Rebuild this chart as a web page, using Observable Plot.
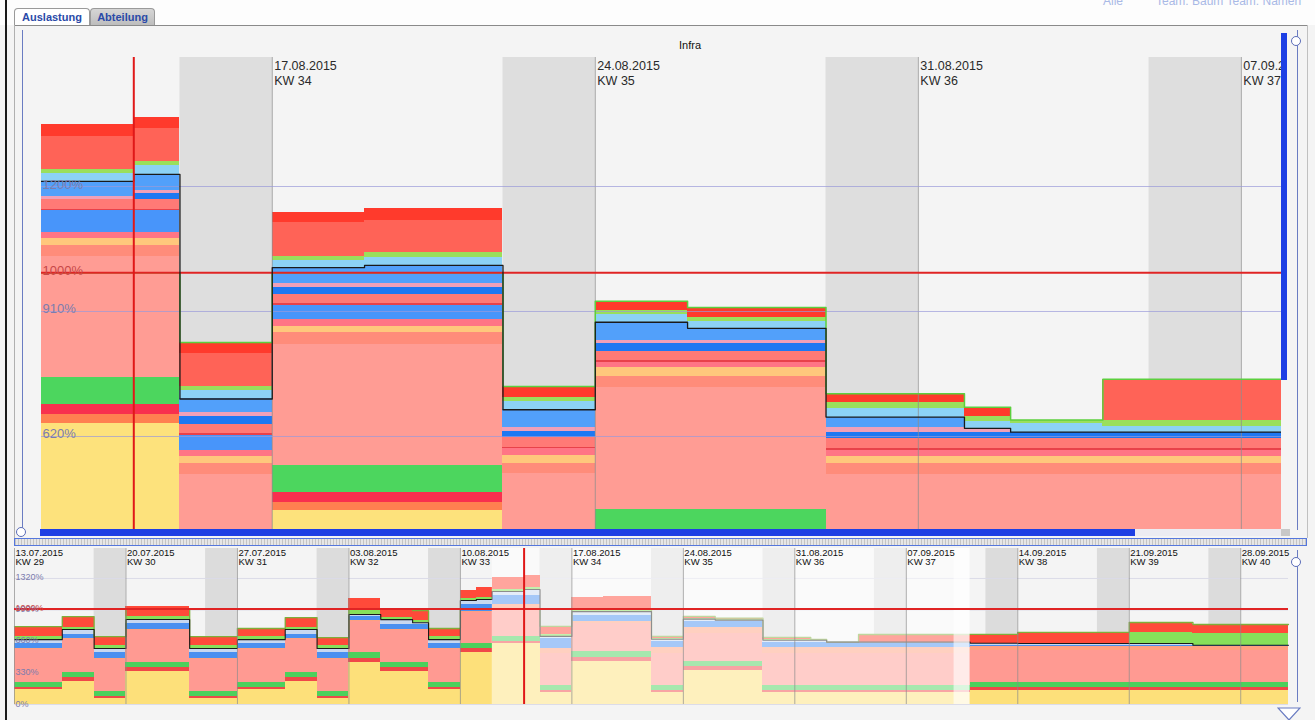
<!DOCTYPE html>
<html><head><meta charset="utf-8">
<script src="https://cdn.jsdelivr.net/npm/d3@7"></script>
<script src="https://cdn.jsdelivr.net/npm/@observablehq/plot@0.6"></script>
<style>
html,body{margin:0;padding:0;overflow:hidden;background:#f4f4f4;}
#page{position:relative;width:1315px;height:720px;overflow:hidden;background:#f4f4f4;font-family:"Liberation Sans",Arial,sans-serif;}
#page svg.chart{position:absolute;left:0;}
.abs{position:absolute;}
.topstrip{left:0;top:0;width:1315px;height:25px;background:#fdfdfd;}
.tab{top:8px;height:16px;border:1px solid #9a9a9a;border-bottom:none;border-radius:4px 4px 0 0;font-weight:bold;font-size:11px;color:#2a4aa8;line-height:16px;text-align:center;}
.faint{top:-6px;font-size:12px;color:#a9b9e6;white-space:nowrap;line-height:14px;}
.vline{width:1px;background:#6a7cc2;}
.knob{width:8px;height:8px;border:1.5px solid #5a6cb8;border-radius:50%;background:#fff;}
.blue{background:#1d3fe4;}
</style></head>
<body><div id="page">
<div class="abs topstrip"></div>
<div class="abs" style="left:14px;top:25px;width:1293px;height:1px;background:#8a8a8a"></div>
<div class="abs" style="left:14px;top:25px;width:1px;height:513px;background:#b0b0b0"></div>
<div class="abs" style="left:1307px;top:25px;width:1px;height:513px;background:#c0c0c0"></div>
<div class="abs tab" style="left:14px;width:74px;background:#fff;">Auslastung</div>
<div class="abs tab" style="left:90px;width:63px;background:linear-gradient(#d6d6d6,#bdbdbd);">Abteilung</div>
<div class="abs faint" style="left:1103px">Alle</div>
<div class="abs faint" style="left:1156px">Team: Baum Team: Namen</div>
<div class="abs" style="left:690px;top:39px;transform:translateX(-50%);font-size:11px;color:#111;">Infra</div>
</div>
<script>
// ================= DATA =================
const capacity = 1000;
const today = "2015-08-14";

// ---- main (detail) chart: segments ----
const mainStart = ["2015-08-12","2015-08-14","2015-08-15","2015-08-17","2015-08-19","2015-08-22","2015-08-24","2015-08-26","2015-08-29","2015-09-01","2015-09-02","2015-09-04"];
const mainEnd   = ["2015-08-14","2015-08-15","2015-08-17","2015-08-19","2015-08-22","2015-08-24","2015-08-26","2015-08-29","2015-09-01","2015-09-02","2015-09-04","2015-09-08"];
// layer values in % (bottom to top)
const mYellow      = [650, 650, 130, 448, 448, 130, 360, 360, 140, 140, 140, 140];
const mOrange      = [ 21,  21,  10,  19,  19,  10,  15,  15,  10,  10,  10,  10];
const mCrimson     = [ 23,  23,  10,  23,  23,  10,  20,  20,  10,  10,  10,  10];
const mGreen       = [ 63,  63,  50,  63,  63,  50,  56,  56,  50,  50,  50,  50];
const mSalmon      = [281, 281, 332, 281, 281, 334, 283, 283, 322, 322, 322, 322];
const mSalmon2     = [ 26,  26,  26,  28,  28,  23,  26,  26,  26,  26,  26,  26];
const mLightOrange = [ 16,  16,  16,  14,  14,  19,  19,  19,  16,  16,  16,  16];
const mPink        = [ 14,  14,  14,  16,  16,  16,  12,  12,  14,  14,  14,  14];
const mBlueBig     = [ 51,  51,  35,  32,  32,   0,   0,   0,   0,   0,   0,   0];
const mRedThin     = [  2,   2,   5,   5,   5,   2,   5,   5,   5,   5,   5,   5];
const mSalmon3     = [ 23,  23,  19,  21,  21,  23,  21,  21,  23,  23,  23,  23];
const mDarkBlue    = [  0,  14,  19,  16,  16,  14,  19,  19,  14,  14,  14,  14];
const mPinkLight   = [  7,   7,   9,   9,   9,   9,   7,   7,  12,   9,   0,   0];
const mBlue        = [ 35,  37,  32,  37,  42,  42,  42,  28,  23,   0,   0,   0];
const mLightBlue   = [ 19,  21,  19,  16,  19,  19,  19,  16,  19,  16,  19,  14];
const mGreenLight  = [  9,   9,   9,   9,  12,   9,   9,   9,  14,  12,   9,  12];
const mRed         = [ 77,  77,  77,  79,  74,   0,   0,   0,   0,   0,   0,  97];
const mRedDark     = [ 26,  26,  26,  23,  28,  26,  21,  23,  21,  21,   0,   0];
const mainColors = ["#fde27c","#ff8050","#f8304e","#4cd65e","#ff9c94","#ff8c7a","#ffc77c","#ff7585","#4895fa","#e8424a","#ff7a76","#1e78f2","#f0a0b8","#52a0fa","#8cd2f6","#9adf5c","#ff6357","#ff3a2c"];
const mainYDomain = [404.2, 1499.3];
const mainXDomain = ["2015-08-12","2015-09-08"];
const mainGrid = [620, 910, 1200];
const mainMondays = ["2015-08-17","2015-08-24","2015-08-31","2015-09-07"];
const mainKW = ["KW 34","KW 35","KW 36","KW 37"];
const mainWeekends = ["2015-08-15","2015-08-22","2015-08-29","2015-09-05"];

// ---- overview chart: segments ----
const ovStart = ["2015-07-13","2015-07-16","2015-07-18","2015-07-20","2015-07-24","2015-07-27","2015-07-30","2015-08-01","2015-08-03","2015-08-05","2015-08-07","2015-08-08","2015-08-10","2015-08-11","2015-08-12","2015-08-14","2015-08-15","2015-08-17","2015-08-19","2015-08-22","2015-08-24","2015-08-26","2015-08-29","2015-09-01","2015-09-02","2015-09-04","2015-09-11","2015-09-14","2015-09-21","2015-09-25"];
const ovEnd   = ["2015-07-16","2015-07-18","2015-07-20","2015-07-24","2015-07-27","2015-07-30","2015-08-01","2015-08-03","2015-08-05","2015-08-07","2015-08-08","2015-08-10","2015-08-11","2015-08-12","2015-08-14","2015-08-15","2015-08-17","2015-08-19","2015-08-22","2015-08-24","2015-08-26","2015-08-29","2015-09-01","2015-09-02","2015-09-04","2015-09-11","2015-09-14","2015-09-21","2015-09-25","2015-10-01"];
const ovYellow     = [157,241, 63,346, 63,157,241, 63,440,346,346,157,545,545,639,639,130,448,448,130,360,360,130,130,130,130,147,147,147,147];
const ovCrimson    = [ 21, 42, 21, 42, 21, 21, 42, 21, 42, 42, 42, 21, 42, 42, 21, 21, 21, 42, 42, 21, 42, 42, 21, 21, 21, 21, 31, 31, 31, 31];
const ovGreen      = [ 52, 52, 52, 52, 52, 52, 52, 52, 63, 52, 52, 52, 52, 52, 52, 52, 52, 63, 63, 52, 52, 52, 52, 52, 52, 52, 52, 52, 52, 52];
const ovSalmon     = [346,346,335,335,335,346,346,335,325,335,335,346,325,325,293,293,335,300,300,330,290,290,330,330,330,330,340,340,340,340];
const ovOrange     = [ 10, 10, 10, 10, 10, 10, 10, 10, 10, 10, 10, 10, 10, 10, 42, 42, 50, 20, 20, 60, 60, 60, 60, 60, 60, 60, 41, 41, 41, 41];
const ovBlue       = [ 52, 42, 63, 63, 63, 52, 42, 63, 42, 52, 52, 52, 73, 73, 94, 94,105, 60, 60, 70, 70, 70, 60, 60, 50, 50, 10, 10, 10, 10];
const ovPaleBlue   = [ 42, 52, 42, 42, 42, 42, 52, 42, 21, 52, 20, 42, 42, 53, 42, 63, 21, 40, 40, 20, 20, 10, 20, 20, 10, 10, 21, 18, 18,  0];
const ovLightGreen = [ 31, 21, 31, 31, 31, 31, 21, 31, 42, 21, 21, 31, 21, 21, 21, 21, 21, 30, 30, 10, 10, 10, 10, 10,  0,  0,  0,  0,115,120];
const ovRed        = [105,115, 94,105, 94, 85,105, 84,126, 96,105, 85, 84,104,126,126, 84,118,129, 20, 20, 10, 20,  0,  0, 80, 92,116,105, 97];
const ovColors = ["#fde07a","#f04848","#4cd05c","#ff9a92","#ffa080","#4a90f0","#c8d8f0","#86e05a","#ff4a3a"];
const ovYDomain = [0, 1634];
const ovXDomain = ["2015-07-13","2015-10-01"];
const ovGrid = [0, 330, 660, 990, 1320];
const ovMondays = ["2015-07-13","2015-07-20","2015-07-27","2015-08-03","2015-08-10","2015-08-17","2015-08-24","2015-08-31","2015-09-07","2015-09-14","2015-09-21","2015-09-28"];
const ovKW = ["KW 29","KW 30","KW 31","KW 32","KW 33","KW 34","KW 35","KW 36","KW 37","KW 38","KW 39","KW 40"];
const ovWeekends = ["2015-07-18","2015-07-25","2015-08-01","2015-08-08","2015-08-15","2015-08-22","2015-08-29","2015-09-05","2015-09-12","2015-09-19","2015-09-26"];
const ovWindow = ["2015-08-12","2015-09-11"];
const ovWindowEdge = ["2015-09-10","2015-09-11"];

// ================= HELPERS =================
const P = d3.utcParse("%Y-%m-%d");
const fmtDate = d3.utcFormat("%d.%m.%Y");
function stackRows(starts, ends, layers, colors) {
  const rows = [];
  starts.forEach((s, i) => {
    let acc = 0;
    layers.forEach((arr, k) => {
      const v = arr[i];
      if (v > 0) rows.push({x1: P(s), x2: P(ends[i]), y1: acc, y2: acc + v, fill: colors[k]});
      acc += v;
    });
  });
  return rows;
}
function cum(layers, i, upto) { let s = 0; for (let k = 0; k < upto; k++) s += layers[k][i]; return s; }
function stepLine(starts, ends, fn) {
  const pts = starts.map((s, i) => ({x: P(s), y: fn(i)}));
  pts.push({x: P(ends[ends.length - 1]), y: fn(starts.length - 1)});
  return pts;
}
const font = "Liberation Sans, Arial, sans-serif";

// ================= MAIN CHART =================
const mainLayers = [mYellow,mOrange,mCrimson,mGreen,mSalmon,mSalmon2,mLightOrange,mPink,mBlueBig,mRedThin,mSalmon3,mDarkBlue,mPinkLight,mBlue,mLightBlue,mGreenLight,mRed,mRedDark];
const mainRows = stackRows(mainStart, mainEnd, mainLayers, mainColors);
const mainBlack = stepLine(mainStart, mainEnd, i => cum(mainLayers, i, 14));
const mainCap = stepLine(mainStart, mainEnd, i => Math.min(cum(mainLayers, i, mainLayers.length), capacity));

const main = Plot.plot({
  width: 1315, height: 540,
  marginLeft: 41, marginRight: 28, marginTop: 57, marginBottom: 11,
  x: {type: "utc", domain: mainXDomain.map(P), axis: null},
  y: {domain: mainYDomain, axis: null},
  color: {type: "identity"},
  style: {background: "transparent", overflow: "visible", fontFamily: font},
  marks: [
    Plot.rect(mainWeekends, {x1: d => P(d), x2: d => d3.utcDay.offset(P(d), 2), y1: mainYDomain[0], y2: mainYDomain[1], fill: "#dedede"}),
    Plot.rect(mainRows, {x1: "x1", x2: "x2", y1: "y1", y2: "y2", fill: "fill", clip: true, shapeRendering: "crispEdges"}),
    Plot.ruleX(mainMondays, {x: d => P(d), stroke: "#8c8c8c", strokeOpacity: 0.75}),
    Plot.ruleY(mainGrid, {y: d => d, stroke: "#9a9ad8", strokeOpacity: 0.7}),
    Plot.line(mainCap, {x: "x", y: "y", curve: "step-after", stroke: "#5ccf3e", strokeWidth: 1.5, clip: true}),
    Plot.ruleY([capacity], {y: d => d, stroke: "#e02424", strokeWidth: 2}),
    Plot.line(mainBlack, {x: "x", y: "y", curve: "step-after", stroke: "#1a1a1a", strokeWidth: 1.3, clip: true}),
    Plot.ruleX([today], {x: d => P(d), stroke: "#e01818", strokeWidth: 2}),
    Plot.text(mainGrid, {y: d => d, text: d => d + "%", frameAnchor: "left", textAnchor: "start", lineAnchor: "bottom", dx: 1, dy: 2, fontSize: 13, fill: "#7c7cae"}),
    Plot.text([capacity], {y: d => d, text: d => d + "%", frameAnchor: "left", textAnchor: "start", lineAnchor: "bottom", dx: 1, dy: 2, fontSize: 13, fill: "#c84848"}),
    Plot.text(mainMondays, {x: d => P(d), text: (d, i) => fmtDate(P(d)) + "\n" + mainKW[i], frameAnchor: "top", textAnchor: "start", lineAnchor: "top", dx: 2, dy: 2, fontSize: 12.5, lineHeight: 1.2, fill: "#2a2a2a", clip: true})
  ]
});
main.classList.add("chart");
main.style.top = "0px";
document.getElementById("page").appendChild(main);

// ================= OVERVIEW CHART =================
const ovLayers = [ovYellow,ovCrimson,ovGreen,ovSalmon,ovOrange,ovBlue,ovPaleBlue,ovLightGreen,ovRed];
const ovRows = stackRows(ovStart, ovEnd, ovLayers, ovColors);
const ovBlack = stepLine(ovStart, ovEnd, i => cum(ovLayers, i, 7));
const ovCap = stepLine(ovStart, ovEnd, i => Math.min(cum(ovLayers, i, ovLayers.length), capacity));

const ov = Plot.plot({
  width: 1315, height: 180,
  marginLeft: 14, marginRight: 27, marginTop: 8, marginBottom: 16,
  x: {type: "utc", domain: ovXDomain.map(P), axis: null},
  y: {domain: ovYDomain, axis: null},
  color: {type: "identity"},
  style: {background: "transparent", overflow: "visible", fontFamily: font},
  marks: [
    Plot.rect(ovWeekends, {x1: d => P(d), x2: d => d3.utcDay.offset(P(d), 2), y1: ovYDomain[0], y2: ovYDomain[1], fill: "#dcdcdc"}),
    Plot.ruleY(ovGrid, {y: d => d, stroke: "#dcdce8"}),
    Plot.rect(ovRows, {x1: "x1", x2: "x2", y1: "y1", y2: "y2", fill: "fill", shapeRendering: "crispEdges"}),
    Plot.line(ovCap, {x: "x", y: "y", curve: "step-after", stroke: "#7fae3a", strokeWidth: 1.3}),
    Plot.line(ovBlack, {x: "x", y: "y", curve: "step-after", stroke: "#1a1a1a", strokeWidth: 1.1}),
    Plot.rect([ovWindow], {x1: d => P(d[0]), x2: d => P(d[1]), y1: ovYDomain[0], y2: ovYDomain[1], fill: "#ffffff", fillOpacity: 0.5}),
    Plot.rect([ovWindowEdge], {x1: d => P(d[0]), x2: d => P(d[1]), y1: ovYDomain[0], y2: ovYDomain[1], fill: "#ffffff", fillOpacity: 0.6}),
    Plot.ruleX(ovMondays, {x: d => P(d), stroke: "#8c8c8c", strokeOpacity: 0.7}),
    Plot.ruleY([capacity], {y: d => d, stroke: "#e02424", strokeWidth: 2}),
    Plot.ruleX([today], {x: d => P(d), stroke: "#e01818", strokeWidth: 2}),
    Plot.text(ovGrid, {y: d => d, text: d => d + "%", frameAnchor: "left", textAnchor: "start", lineAnchor: "bottom", dx: 1, dy: 2, fontSize: 9, fill: "#7c7cae"}),
    Plot.text([capacity], {y: d => d, text: d => d + "%", frameAnchor: "left", textAnchor: "start", lineAnchor: "bottom", dx: 1, dy: 2, fontSize: 9, fill: "#c84848"}),
    Plot.text(ovMondays, {x: d => P(d), text: (d, i) => fmtDate(P(d)) + "\n" + ovKW[i], frameAnchor: "top", textAnchor: "start", lineAnchor: "top", dx: 1, dy: 1, fontSize: 9.5, lineHeight: 0.95, fill: "#111"})
  ]
});
ov.classList.add("chart");
ov.style.top = "540px";
document.getElementById("page").appendChild(ov);

// ================= UI CHROME (sliders, scroll bars) =================
const page = document.getElementById("page");
function box(style, cls) { const d = document.createElement("div"); d.className = "abs " + (cls || ""); d.setAttribute("style", style); page.appendChild(d); return d; }
box("left:5px;top:0;width:2px;height:720px;background:#1a1a1a");
box("left:22px;top:30px;height:498px", "vline");
box("left:16px;top:527px", "knob");
box("left:1281px;top:380px;width:10px;height:149px;background:#f4f4f4");
box("left:1297px;top:30px;height:500px", "vline");
box("left:1291px;top:36px", "knob");
box("left:1281px;top:33px;width:6px;height:347px", "blue");
box("left:40px;top:529px;width:1095px;height:7px", "blue");
box("left:1135px;top:529px;width:146px;height:7px;background:#ececf2");
box("left:1281px;top:529px;width:9px;height:7px;background:#c8c8c8");
box("left:14px;top:538px;width:1291px;height:6px;border:1px solid #5577dd;background:repeating-linear-gradient(90deg,#c4c4c4 0 1px,#e6e6e6 1px 3px)");
box("left:1297px;top:550px;height:152px", "vline");
box("left:1291px;top:557px", "knob");
const tri = box("left:1277px;top:707px;width:24px;height:14px");
tri.innerHTML = '<svg width="24" height="14"><polygon points="1,1 23,1 12,13" fill="#fff" stroke="#6a7cc2" stroke-width="1.2"/></svg>';
</script>
</body></html>
